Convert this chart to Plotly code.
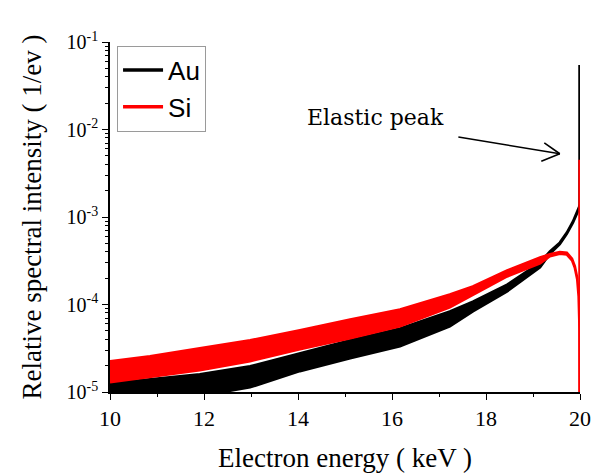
import numpy as np
import plotly.graph_objects as go

# ---- data (energy in keV, intensity in 1/eV) ----
au_energy = [10.0, 10.85, 11.91, 12.98, 14.04, 15.11, 16.17, 17.23, 17.72, 18.45, 19.15, 19.36, 19.57, 19.72, 19.85, 19.96, 20.0]
au_high   = [1.26e-5, 1.40e-5, 1.60e-5, 1.97e-5, 2.77e-5, 3.90e-5, 5.33e-5, 8.34e-5, 1.08e-4, 1.69e-4, 3.02e-4, 4.05e-4, 5.1e-4, 6.64e-4, 8.9e-4, 1.21e-3, 1.38e-3]
au_low    = [9.0e-6, 9.0e-6, 9.0e-6, 1.13e-5, 1.73e-5, 2.43e-5, 3.33e-5, 5.62e-5, 8.34e-5, 1.41e-4, 2.65e-4, 3.80e-4, 4.9e-4, 6.4e-4, 8.6e-4, 1.17e-3, 1.33e-3]
au_peak   = [1.33e-3, 5.47e-2]

si_energy = [10.0, 10.85, 11.91, 12.98, 14.04, 15.11, 16.17, 17.23, 17.72, 18.45, 19.15, 19.36, 19.57, 19.72, 19.83, 19.89, 19.94, 19.97, 19.99, 20.0]
si_high   = [2.25e-5, 2.56e-5, 3.16e-5, 3.90e-5, 5.07e-5, 6.76e-5, 8.80e-5, 1.30e-4, 1.61e-4, 2.45e-4, 3.44e-4, 3.75e-4, 3.98e-4, 3.90e-4, 3.35e-4, 2.75e-4, 2.04e-4, 1.30e-4, 5.3e-5, 5.0e-6]
si_low    = [1.29e-5, 1.48e-5, 1.77e-5, 2.25e-5, 3.08e-5, 4.10e-5, 5.62e-5, 9.27e-5, 1.30e-4, 2.09e-4, 2.94e-4, 3.55e-4, 3.80e-4, 3.72e-4, 3.20e-4, 2.62e-4, 1.95e-4, 1.24e-4, 5.0e-5, 5.0e-6]
si_peak   = [5.0e-6, 4.51e-3]

peak_energy = [20.0, 20.0]

x_ticks = [10, 12, 14, 16, 18, 20]
y_tick_vals = [1e-5, 1e-4, 1e-3, 1e-2, 1e-1]
y_tick_text = ["10<sup>-5</sup>", "10<sup>-4</sup>", "10<sup>-3</sup>", "10<sup>-2</sup>", "10<sup>-1</sup>"]

AU_COLOR = "#000000"
SI_COLOR = "#ff0000"

fig = go.Figure()


def band(energy, high, low, color):
    return go.Scatter(
        x=list(energy) + list(energy[::-1]),
        y=list(high) + list(low[::-1]),
        fill="toself", fillcolor=color, mode="lines",
        line=dict(color=color, width=2.5),
        showlegend=False, hoverinfo="skip",
    )


fig.add_trace(band(au_energy, au_high, au_low, AU_COLOR))
fig.add_trace(go.Scatter(x=peak_energy, y=au_peak, mode="lines", name="Au",
                         line=dict(color=AU_COLOR, width=3.5)))
fig.add_trace(band(si_energy, si_high, si_low, SI_COLOR))
fig.add_trace(go.Scatter(x=peak_energy, y=si_peak, mode="lines", name="Si",
                         line=dict(color=SI_COLOR, width=3.5)))

# annotation: text + arrow with open head
tip_x, tip_y = 19.57, 5.28e-3
tail_x, tail_y = 17.38, 8.26e-3
fig.add_annotation(x=15.64, y=-1.867, text="Elastic peak", showarrow=False,
                   font=dict(family="DejaVu Serif", size=22, color="black"))
fig.add_annotation(x=tip_x, y=np.log10(tip_y), ax=tail_x, ay=np.log10(tail_y),
                   axref="x", ayref="y", text="", showarrow=True,
                   arrowhead=0, arrowwidth=1.6, arrowcolor="black")
for dx, dy in [(-17, -12), (-20, 8)]:
    fig.add_annotation(x=tip_x, y=np.log10(tip_y), ax=dx, ay=dy, text="",
                       showarrow=True, arrowhead=0, arrowwidth=1.6,
                       arrowcolor="black")

# the page body adds an 8px margin, so the figure is sized to fit the window
fig.update_layout(
    width=594, height=468,
    margin=dict(l=102, r=22, t=34, b=84),
    paper_bgcolor="white", plot_bgcolor="white",
    font=dict(family="Liberation Serif", color="black"),
    legend=dict(x=0.015, y=0.99, xanchor="left", yanchor="top",
                bordercolor="#9a9a9a", borderwidth=1, bgcolor="white",
                font=dict(family="Liberation Sans", size=26),
                itemwidth=40, tracegroupgap=0),
)
fig.update_xaxes(
    range=[10, 20], tickvals=x_ticks, showgrid=False, zeroline=False,
    automargin=False,
    showline=True, linecolor="black", linewidth=1.5,
    ticks="outside", ticklen=6, tickwidth=1.2, tickcolor="black",
    minor=dict(dtick=1, ticks="outside", ticklen=3, tickcolor="black"),
    tickfont=dict(family="Liberation Serif", size=22),
    title=dict(text="Electron energy ( keV )", standoff=18,
               font=dict(family="Liberation Serif", size=27)),
)
fig.update_yaxes(
    type="log", range=[-5, -1], tickvals=y_tick_vals, ticktext=y_tick_text,
    showgrid=False, zeroline=False, automargin=False,
    showline=True, linecolor="black", linewidth=1.5,
    ticks="outside", ticklen=6, tickwidth=1.2, tickcolor="black",
    minor=dict(dtick="D1", ticks="outside", ticklen=3, tickcolor="black"),
    tickfont=dict(family="Liberation Serif", size=20),
    title=dict(text="Relative spectral intensity ( 1/ev )", standoff=17,
               font=dict(family="Liberation Serif", size=27)),
)

fig.write_html("out.html")
